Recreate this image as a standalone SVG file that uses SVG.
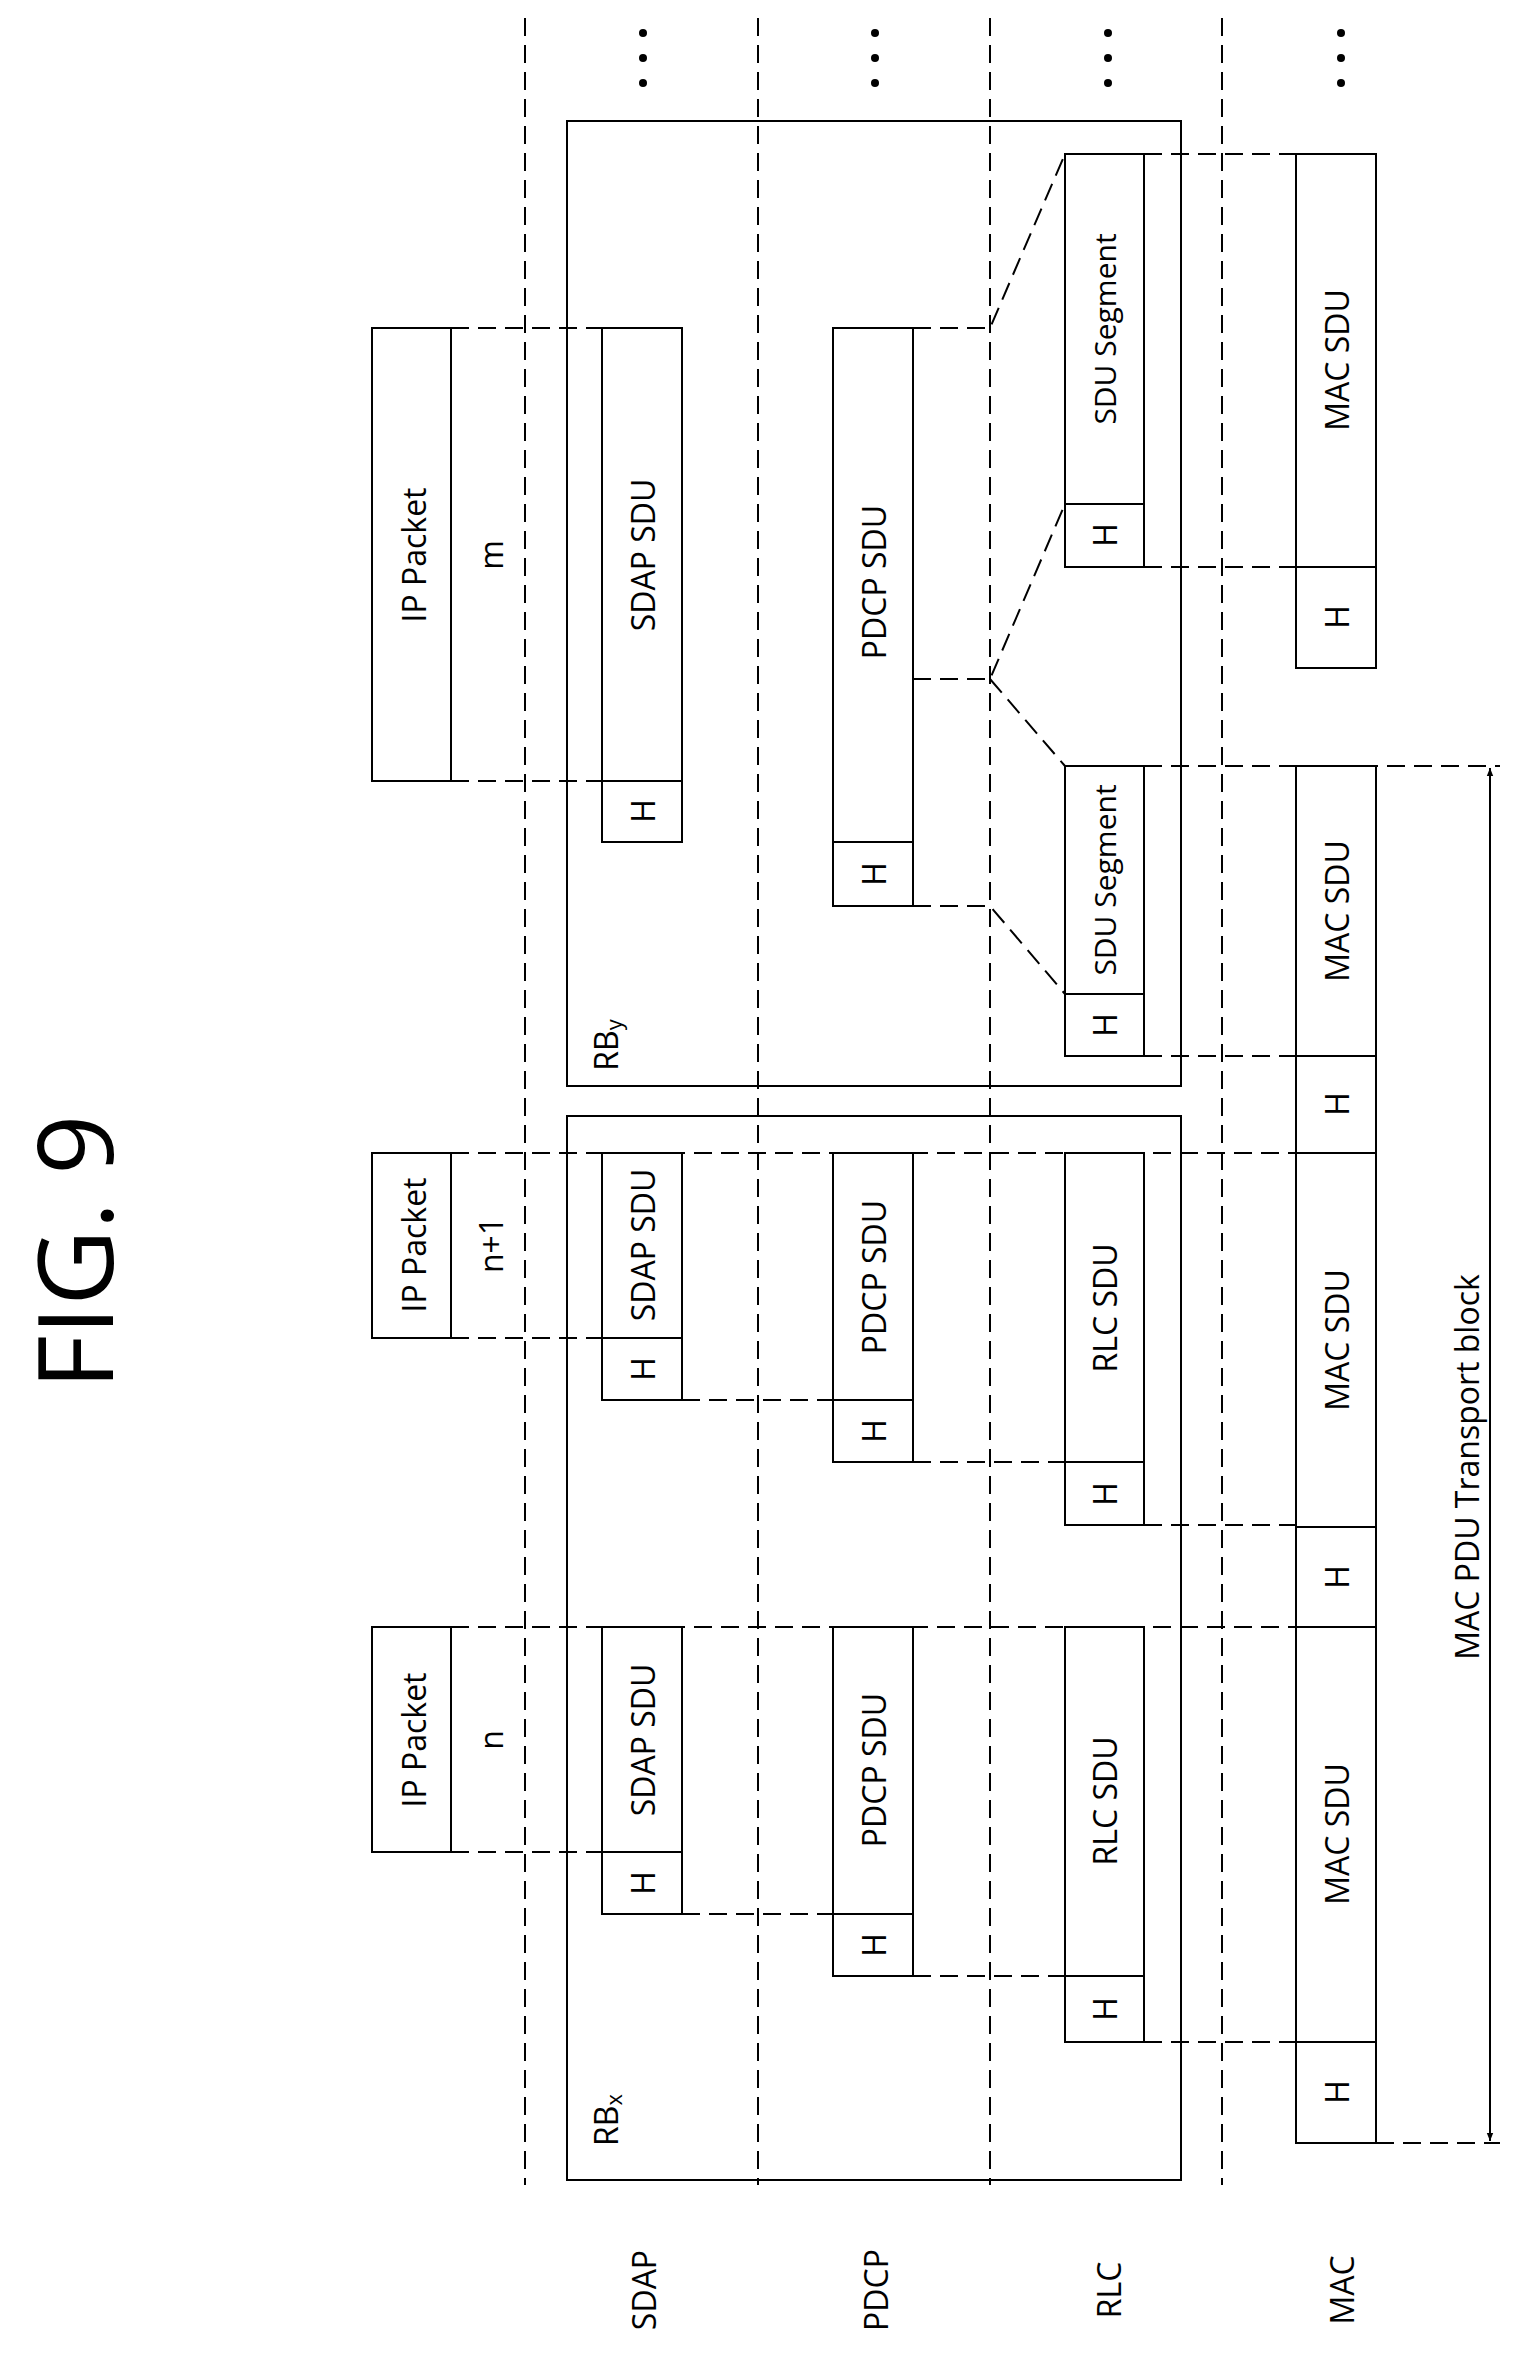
<svg xmlns="http://www.w3.org/2000/svg" width="1514" height="2354" viewBox="0 0 1514 2354">
<defs>
<style>
.b{fill:#fff;stroke:#000;stroke-width:2}
.d{stroke:#000;stroke-width:2;stroke-dasharray:18 9;fill:none}
.l{stroke:#000;stroke-width:2;fill:none}
text{font-family:"Open Sans","Noto Sans",sans-serif;font-size:32px;text-anchor:middle;dominant-baseline:central;fill:#000}
</style>
<marker id="ah" viewBox="0 0 10 10" refX="10" refY="5" markerWidth="8" markerHeight="10" orient="auto-start-reverse" markerUnits="userSpaceOnUse"><path d="M0,1 L10,5 L0,9 Z" fill="#000"/></marker>
</defs>
<rect width="1514" height="2354" fill="#fff"/>
<text transform="translate(72,1252) rotate(-90)" style="font-size:105px">FIG. 9</text>
<g id="layers">
<path class="d" d="M525,18V2185M758,18V2185M990,18V2185M1222,18V2185"/>
<g fill="#000"><circle cx="643" cy="33" r="4"/><circle cx="643" cy="58" r="4"/><circle cx="643" cy="83" r="4"/>
<circle cx="875" cy="33" r="4"/><circle cx="875" cy="58" r="4"/><circle cx="875" cy="83" r="4"/>
<circle cx="1108" cy="33" r="4"/><circle cx="1108" cy="58" r="4"/><circle cx="1108" cy="83" r="4"/>
<circle cx="1341" cy="33" r="4"/><circle cx="1341" cy="58" r="4"/><circle cx="1341" cy="83" r="4"/></g>
<text transform="translate(643,2290) rotate(-90)">SDAP</text>
<text transform="translate(875,2290) rotate(-90)">PDCP</text>
<text transform="translate(1108,2290) rotate(-90)">RLC</text>
<text transform="translate(1341,2290) rotate(-90)">MAC</text>
</g>
<g id="rby"><rect class="l" x="567" y="121" width="614" height="965"/><text transform="translate(605,1045) rotate(-90)">RB<tspan font-size="22" dy="8">y</tspan></text></g>
<g id="rbx"><rect class="l" x="567" y="1116" width="614" height="1064"/><text transform="translate(605,2120) rotate(-90)">RB<tspan font-size="22" dy="8">x</tspan></text></g>
<g id="ip-m"><rect class="l" x="372" y="328" width="79" height="453"/><text transform="translate(413,555) rotate(-90)">IP Packet</text><text transform="translate(490,555) rotate(-90)">m</text></g>
<g id="ip-n1"><rect class="l" x="372" y="1153" width="79" height="185"/><text transform="translate(413,1245) rotate(-90)">IP Packet</text><text transform="translate(490,1245) rotate(-90)">n+1</text></g>
<g id="ip-n"><rect class="l" x="372" y="1627" width="79" height="225"/><text transform="translate(413,1740) rotate(-90)">IP Packet</text><text transform="translate(490,1740) rotate(-90)">n</text></g>
<g id="sdap-m"><rect class="b" x="602" y="328" width="80" height="514"/><path class="l" d="M602,781H682"/><text transform="translate(642,555) rotate(-90)">SDAP SDU</text><text transform="translate(642,811) rotate(-90)">H</text></g>
<g id="sdap-n1"><rect class="b" x="602" y="1153" width="80" height="247"/><path class="l" d="M602,1338H682"/><text transform="translate(642,1245) rotate(-90)">SDAP SDU</text><text transform="translate(642,1369) rotate(-90)">H</text></g>
<g id="sdap-n"><rect class="b" x="602" y="1627" width="80" height="287"/><path class="l" d="M602,1852H682"/><text transform="translate(642,1740) rotate(-90)">SDAP SDU</text><text transform="translate(642,1883) rotate(-90)">H</text></g>
<g id="pdcp-m"><rect class="b" x="833" y="328" width="80" height="578"/><path class="l" d="M833,842H913"/><text transform="translate(873,582) rotate(-90)">PDCP SDU</text><text transform="translate(873,874) rotate(-90)">H</text></g>
<g id="pdcp-n1"><rect class="b" x="833" y="1153" width="80" height="309"/><path class="l" d="M833,1400H913"/><text transform="translate(873,1277) rotate(-90)">PDCP SDU</text><text transform="translate(873,1431) rotate(-90)">H</text></g>
<g id="pdcp-n"><rect class="b" x="833" y="1627" width="80" height="349"/><path class="l" d="M833,1914H913"/><text transform="translate(873,1770) rotate(-90)">PDCP SDU</text><text transform="translate(873,1945) rotate(-90)">H</text></g>
<g id="seg1"><rect class="b" x="1065" y="154" width="79" height="413"/><path class="l" d="M1065,504H1144"/><text transform="translate(1104,329) rotate(-90)" style="font-size:30px">SDU Segment</text><text transform="translate(1104,535) rotate(-90)">H</text></g>
<g id="seg2"><rect class="b" x="1065" y="766" width="79" height="290"/><path class="l" d="M1065,994H1144"/><text transform="translate(1104,880) rotate(-90)" style="font-size:30px">SDU Segment</text><text transform="translate(1104,1025) rotate(-90)">H</text></g>
<g id="rlc-n1"><rect class="b" x="1065" y="1153" width="79" height="372"/><path class="l" d="M1065,1462H1144"/><text transform="translate(1104,1308) rotate(-90)">RLC SDU</text><text transform="translate(1104,1494) rotate(-90)">H</text></g>
<g id="rlc-n"><rect class="b" x="1065" y="1627" width="79" height="415"/><path class="l" d="M1065,1976H1144"/><text transform="translate(1104,1801) rotate(-90)">RLC SDU</text><text transform="translate(1104,2009) rotate(-90)">H</text></g>
<g id="mac-top"><rect class="b" x="1296" y="154" width="80" height="514"/><path class="l" d="M1296,567H1376"/><text transform="translate(1336,360) rotate(-90)">MAC SDU</text><text transform="translate(1336,617) rotate(-90)">H</text></g>
<g id="mac-pdu"><rect class="b" x="1296" y="766" width="80" height="1377"/><path class="l" d="M1296,1056H1376M1296,1153H1376M1296,1527H1376M1296,1627H1376M1296,2042H1376"/>
<text transform="translate(1336,911) rotate(-90)">MAC SDU</text><text transform="translate(1336,1104) rotate(-90)">H</text>
<text transform="translate(1336,1340) rotate(-90)">MAC SDU</text><text transform="translate(1336,1577) rotate(-90)">H</text>
<text transform="translate(1336,1834) rotate(-90)">MAC SDU</text><text transform="translate(1336,2092) rotate(-90)">H</text></g>
<g id="connectors">
<path class="d" d="M451,328H602M451,781H602M913,328H990L1065,154M913,679H990L1065,504M990,679L1065,766M913,906H990L1065,994M1144,154H1296M1144,567H1296M1144,766H1500M1144,1056H1296"/>
<path class="d" d="M451,1153H1296M451,1338H602M682,1400H833M913,1462H1065M1144,1525H1296"/>
<path class="d" d="M451,1627H1296M451,1852H602M682,1914H833M913,1976H1065M1144,2042H1296M1376,2143H1500"/>
<path class="l" d="M1490,768V2141" marker-start="url(#ah)" marker-end="url(#ah)"/>
<text transform="translate(1466,1467) rotate(-90)">MAC PDU Transport block</text>
</g>
</svg>
